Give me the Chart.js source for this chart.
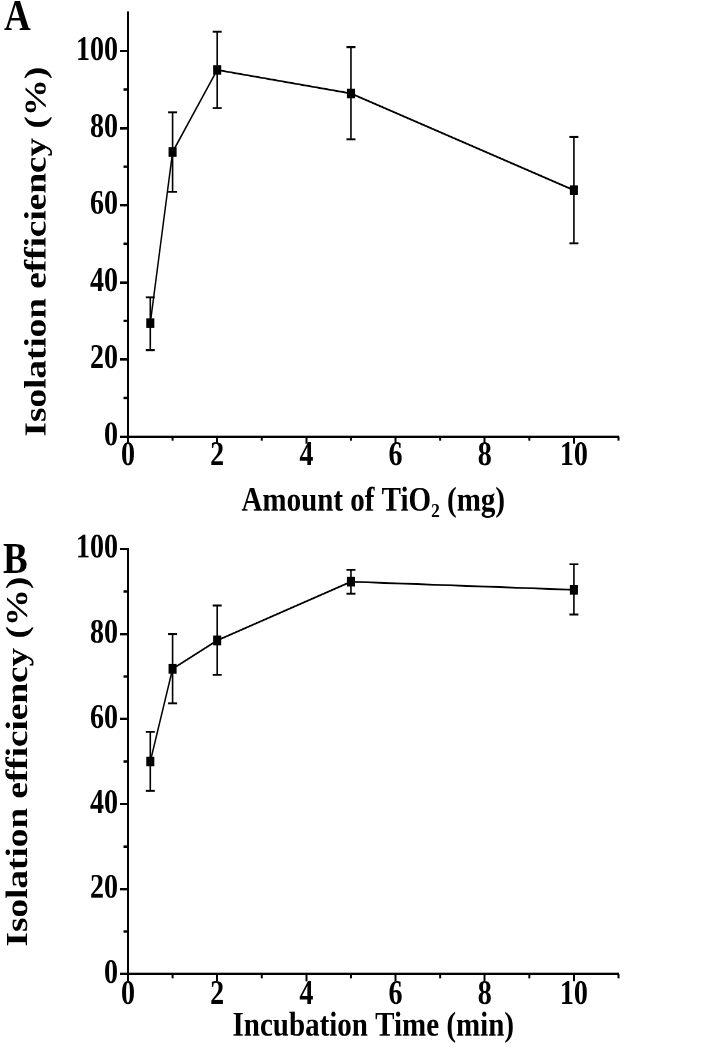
<!DOCTYPE html>
<html>
<head>
<meta charset="utf-8">
<script src="https://cdn.jsdelivr.net/npm/chart.js@4.4.1/dist/chart.umd.min.js"></script>
<style>
html,body{margin:0;padding:0;background:#fff;}
#wrap{position:relative;width:704px;height:1052px;overflow:hidden;background:#fff;}
.panel{position:absolute;left:0;width:704px;transform:scale(1,1.2);transform-origin:0 0;}
#pa{top:0;height:437px;}
#pb{top:525px;height:439px;}
.lbl{position:absolute;font-family:"Liberation Serif","Times New Roman",serif;font-weight:bold;font-size:37px;line-height:1;color:#000;}
</style>
</head>
<body>
<div id="wrap">
  <div class="panel" id="pa">
    <canvas id="ca" width="704" height="437"></canvas>
    <div class="lbl" style="left:4px;top:-6px">A</div>
  </div>
  <div class="panel" id="pb">
    <canvas id="cb" width="704" height="439"></canvas>
    <div class="lbl" style="left:3px;top:9px">B</div>
  </div>
</div>
<script>
// ---- Data ----
const amountTiO2 = [0.5, 1, 2, 5, 10];            // mg
const effA       = [29.4, 73.8, 95.1, 89.0, 63.9]; // %
const effA_lo    = [22.4, 63.5, 85.2, 77.1, 50.1];
const effA_hi    = [36.1, 84.1, 105.0, 101.0, 77.7];

const incTime    = [0.5, 1, 2, 5, 10];            // min
const effB       = [50.0, 71.8, 78.5, 92.3, 90.4]; // %
const effB_lo    = [43.1, 63.7, 70.4, 89.5, 84.6];
const effB_hi    = [57.0, 80.0, 86.7, 95.1, 96.4];

const xMajorTicks = [0, 2, 4, 6, 8, 10];
const xMinorTicks = [1, 3, 5, 7, 9, 11];
const yMajorTicks = [0, 20, 40, 60, 80, 100];
const yMinorTicks = [10, 30, 50, 70, 90];

const xTitleA = 'Amount of TiO\u2082 (mg)';
const xTitleB = 'Incubation Time (min)';
const yTitle  = 'Isolation efficiency (%)';

// ---- Chart factory ----
const FONT = '"Liberation Serif", "Times New Roman", serif';

function makePanel(canvasId, xs, ys, lo, hi, cfg) {
  const errorBars = {
    id: 'errorBars',
    beforeDatasetsDraw(chart) {
      const {ctx, scales: {x, y}} = chart;
      ctx.save();
      ctx.strokeStyle = '#000';
      ctx.lineWidth = 1.6;
      ctx.beginPath();
      xs.forEach((xv, i) => {
        const px = x.getPixelForValue(xv);
        const yl = y.getPixelForValue(lo[i]);
        const yh = y.getPixelForValue(hi[i]);
        ctx.moveTo(px, yl); ctx.lineTo(px, yh);
        ctx.moveTo(px - 4.5, yl); ctx.lineTo(px + 4.5, yl);
        ctx.moveTo(px - 4.5, yh); ctx.lineTo(px + 4.5, yh);
      });
      ctx.stroke();
      ctx.restore();
    }
  };
  const minorTicks = {
    id: 'minorTicks',
    afterDraw(chart) {
      const {ctx, scales: {x, y}, chartArea} = chart;
      ctx.save();
      ctx.strokeStyle = '#000';
      ctx.lineWidth = 2;
      ctx.beginPath();
      xMinorTicks.forEach(v => {
        const p = x.getPixelForValue(v);
        ctx.moveTo(p, chartArea.bottom); ctx.lineTo(p, chartArea.bottom + 3.5);
      });
      yMinorTicks.forEach(v => {
        if (v > cfg.yMax) return;
        const p = y.getPixelForValue(v);
        ctx.moveTo(chartArea.left, p); ctx.lineTo(chartArea.left - 4.5, p);
      });
      ctx.stroke();
      ctx.restore();
    }
  };

  return new Chart(document.getElementById(canvasId), {
    type: 'scatter',
    data: {
      datasets: [{
        data: xs.map((v, i) => ({x: v, y: ys[i]})),
        showLine: true,
        borderColor: '#000',
        borderWidth: 1.5,
        pointStyle: 'rect',
        pointRadius: 5,
        pointBackgroundColor: '#000',
        pointBorderColor: '#000',
        pointBorderWidth: 1,
        tension: 0
      }]
    },
    options: {
      responsive: false,
      animation: false,
      devicePixelRatio: 2,
      events: [],
      layout: {padding: {left: 0, right: cfg.padRight, top: cfg.padTop, bottom: 0}},
      plugins: {legend: {display: false}, tooltip: {enabled: false}},
      scales: {
        x: {
          type: 'linear', min: 0, max: 11,
          afterBuildTicks: s => { s.ticks = xMajorTicks.map(v => ({value: v})); },
          afterFit: s => { s.height = cfg.xHeight; s.paddingLeft = 0; s.paddingRight = 0; },
          ticks: {color: '#000', padding: cfg.xTickPad, maxRotation: 0, autoSkip: false,
                  font: {family: FONT, weight: 'bold', size: 28, lineHeight: 0.75}},
          grid: {drawOnChartArea: false, drawTicks: true, tickLength: 6, tickWidth: 2, tickColor: '#000'},
          border: {display: true, color: '#000', width: 2},
          title: {display: true, text: cfg.xTitle, color: '#000',
                  font: {family: FONT, weight: 'bold', size: 29, lineHeight: 1},
                  padding: {top: 0, bottom: cfg.xTitlePad}}
        },
        y: {
          type: 'linear', min: 0, max: cfg.yMax,
          afterBuildTicks: s => { s.ticks = yMajorTicks.map(v => ({value: v})); },
          afterFit: s => { s.width = 128; s.paddingTop = 0; s.paddingBottom = 0; },
          ticks: {color: '#000', padding: 2,
                  font: {family: FONT, weight: 'bold', size: 28, lineHeight: 0.75}},
          grid: {drawOnChartArea: false, drawTicks: true, tickLength: 8, tickWidth: 2, tickColor: '#000'},
          border: {display: true, color: '#000', width: 2},
          title: {display: true, text: yTitle, color: '#000', align: cfg.yTitleAlign,
                  font: {family: FONT, weight: 'bold', size: 31, lineHeight: 1},
                  padding: {top: cfg.yTitlePad, bottom: 0}}
        }
      }
    },
    plugins: [errorBars, minorTicks]
  });
}

// logical (unstretched) layout values; panels are stretched 1.2x vertically
makePanel('ca', amountTiO2, effA, effA_lo, effA_hi, {
  yMax: 110, padTop: 10.4, padRight: 85.5, xHeight: 73.25, xTickPad: 0,
  xTitle: xTitleA, xTitlePad: 4.5, yTitlePad: 22, yTitleAlign: 'start'
});
makePanel('cb', incTime, effB, effB_lo, effB_hi, {
  yMax: 100, padTop: 20, padRight: 85.5, xHeight: 64.8, xTickPad: 1,
  xTitle: xTitleB, xTitlePad: 6.5, yTitlePad: 3.5, yTitleAlign: 'center'
});
</script>
</body>
</html>
